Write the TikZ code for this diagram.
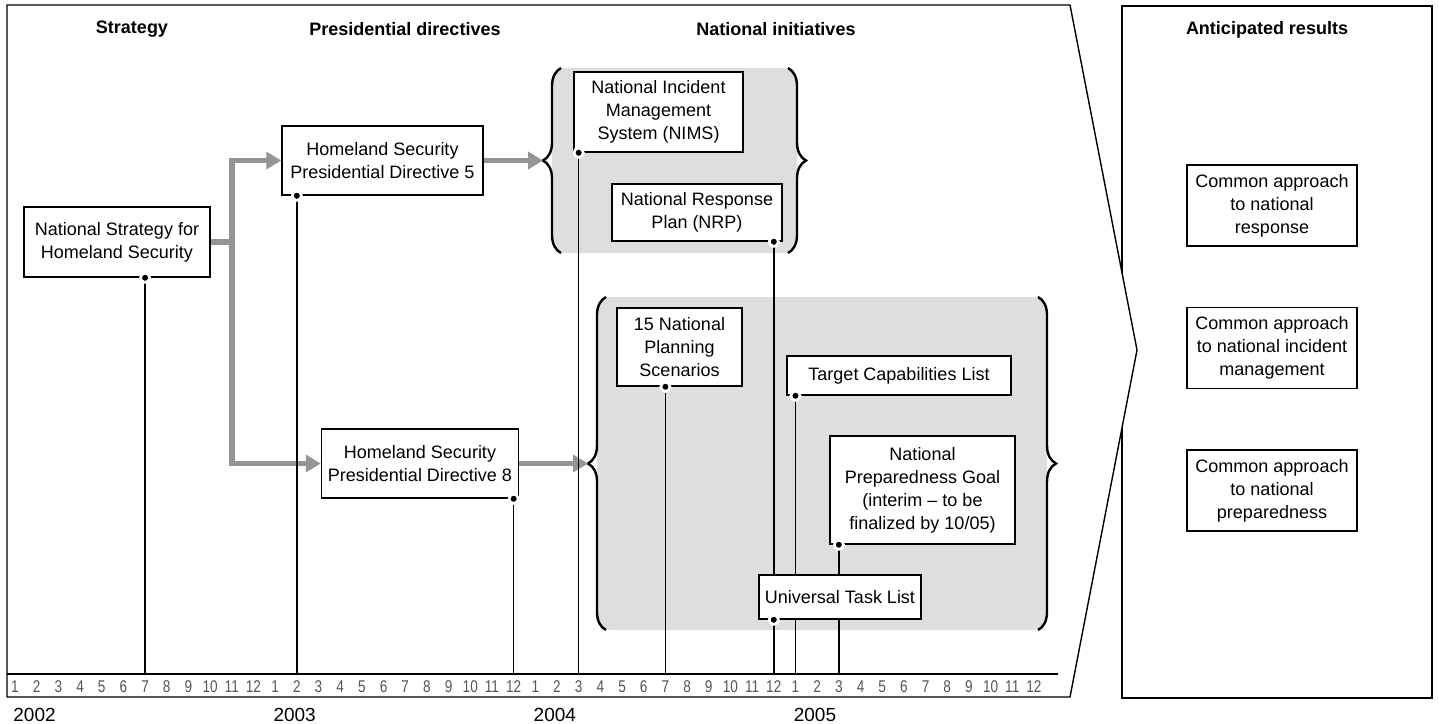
\documentclass[tikz,border=0pt]{standalone}
\usepackage{fontspec}
\setmainfont{Liberation Sans}
\newfontfamily\narrowfont[FakeStretch=0.8]{Liberation Sans}
\usetikzlibrary{arrows.meta,decorations.pathreplacing,calc}
\definecolor{panel}{RGB}{221,222,224}
\definecolor{flowgray}{RGB}{147,149,152}
\definecolor{monthgray}{RGB}{85,85,85}

\begin{document}
\begin{tikzpicture}[x=0.5pt,y=-0.5pt,font=\fontsize{9}{11.5}\selectfont,
  box/.style={draw,fill=white,line width=0.75pt,align=center,inner sep=0pt},
  head/.style={font=\fontsize{9}{11}\selectfont\bfseries},
  flow/.style={draw=flowgray,line width=2.8pt,-{Triangle[length=7.5pt,width=8.5pt]}},
  flowline/.style={draw=flowgray,line width=2.8pt},
  drop/.style={line width=0.75pt},
  pin/.style={circle,fill=black,draw=white,line width=1.35pt,inner sep=0pt,minimum size=4.6pt},
  panelbrace/.style={decorate,decoration={brace,amplitude=9pt},line width=1.2pt},
  month/.style={font=\narrowfont\fontsize{8.5}{10}\selectfont,text=monthgray},
  year/.style={font=\fontsize{9.5}{11}\selectfont}]
\def\mx{15}
\def\mw{21.68}
\useasboundingbox (0,0) rectangle (1439,723);

% frame and results
\draw[line width=0.7pt] (1122,6) rectangle (1432,698);
\filldraw[fill=white,line width=0.7pt] (7,5) -- (1070,5) -- (1137,350) -- (1070,697) -- (7,697) -- cycle;

\node[head] (hstrat) at (132,29) {Strategy};
\node[head] (hpres) at (405,29) {Presidential directives};
\node[head] (hnat) at (776,29) {National initiatives};
\node[head] (hres) at (1267,30) {Anticipated results};

% time axis
\draw[line width=1.4pt] (7,674) -- (1058,674);
\foreach \i [evaluate=\i as \mo using {int(mod(\i,12)+1)}] in {0,...,47}{
  \coordinate (m\i) at ({\mx+\mw*\i},674);
  \node[month] (lab\i) at ({\mx+\mw*\i},687) {\mo};
}
\foreach \yr [count=\k from 0] in {2002,2003,2004,2005}
  \node[year] (y\yr) at ({\mx+\mw*(12*\k+0.9)},715) {\yr};

% shaded groups
\fill[panel,rounded corners=7pt] (552,68) rectangle (797,253);
\draw[panelbrace] (561,253) -- (561,68);
\draw[panelbrace] (788,68) -- (788,253);
\coordinate (tip1) at (543,160.5);

\fill[panel,rounded corners=7pt] (597,297) rectangle (1047,630);
\draw[panelbrace] (606,630) -- (606,297);
\draw[panelbrace] (1038,297) -- (1038,630);
\coordinate (tip2) at (588,463.5);

% boxes
\node[box,minimum width=93pt,minimum height=35pt] (nshs) at (117,242) {National Strategy for\\Homeland Security};
\node[box,minimum width=100.5pt,minimum height=34.5pt] (hspd5) at (382.5,160.5) {Homeland Security\\Presidential Directive 5};
\node[box,minimum width=98.5pt,minimum height=34.5pt] (hspd8) at (420,463.5) {Homeland Security\\Presidential Directive 8};

\node[box,minimum width=84.5pt,minimum height=40pt] (nims) at (658.5,112) {National Incident\\Management\\System (NIMS)};
\node[box,minimum width=85pt,minimum height=28.5pt] (nrp) at (697,212.5) {National Response\\Plan (NRP)};

\node[box,minimum width=62.5pt,minimum height=39pt] (nps) at (679.5,347) {15 National\\Planning\\Scenarios};
\node[box,minimum width=112pt,minimum height=19.5pt] (tcl) at (899,375.5) {Target Capabilities List};
\node[box,minimum width=92.5pt,minimum height=54pt] (npg) at (922.5,490) {National\\Preparedness Goal\\(interim – to be\\finalized by 10/05)};

\node[box,minimum width=85pt,minimum height=40.5pt] (res1) at (1272,205.5) {Common approach\\to national\\response};
\node[box,minimum width=85pt,minimum height=40.5pt] (res2) at (1272,348) {Common approach\\to national incident\\management};
\node[box,minimum width=85pt,minimum height=40.5pt] (res3) at (1272,490.5) {Common approach\\to national\\preparedness};

% gray flow arrows
\coordinate (fork) at (232,242);
\draw[flowline] (nshs.east) -- (fork);
\draw[flow] (fork) |- (hspd5.west);
\draw[flow] (fork) |- (hspd8.west);
\draw[flow] (hspd5.east) -- (tip1);
\draw[flow] (hspd8.east) -- (tip2);

% drop lines to the time axis
\draw[drop] (m6 |- nshs.south) -- (m6);
\draw[drop] (m13 |- hspd5.south) -- (m13);
\draw[drop] (m23 |- hspd8.south) -- (m23);
\draw[drop] (m26 |- nims.south) -- (m26);
\draw[drop] (m30 |- nps.south) -- (m30);
\draw[drop] (m35 |- nrp.south) -- (m35);
\draw[drop] (m36 |- tcl.south) -- (m36);
\draw[drop] (m38 |- npg.south) -- (m38);

\node[box,minimum width=81pt,minimum height=22pt] (utl) at (840,597) {Universal Task List};

\node[pin] (pnshs) at (m6 |- nshs.south) {};
\node[pin] (phspd5) at (m13 |- hspd5.south) {};
\node[pin] (phspd8) at (m23 |- hspd8.south) {};
\node[pin] (pnims) at (m26 |- nims.south) {};
\node[pin] (pnps) at (m30 |- nps.south) {};
\node[pin] (pnrp) at (m35 |- nrp.south) {};
\node[pin] (putl) at (m35 |- utl.south) {};
\node[pin] (ptcl) at (m36 |- tcl.south) {};
\node[pin] (pnpg) at (m38 |- npg.south) {};
\end{tikzpicture}
\end{document}
